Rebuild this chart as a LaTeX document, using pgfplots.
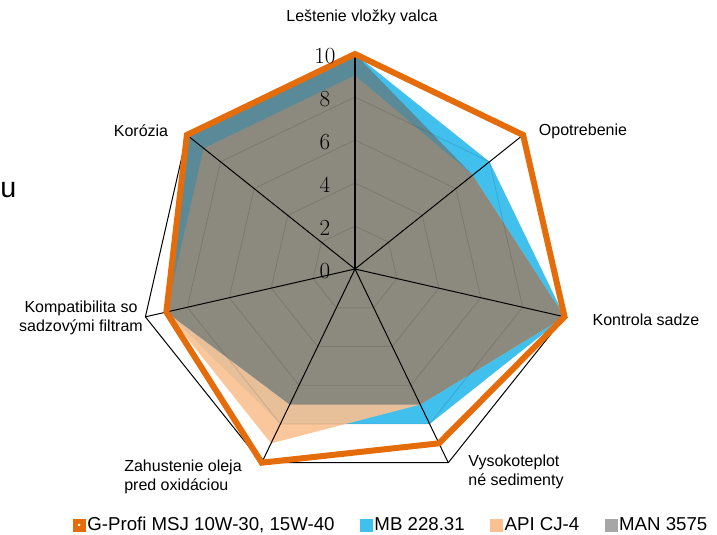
\documentclass[border=0pt]{standalone}
\usepackage[no-math]{fontspec}
\setmainfont{Liberation Sans}
\usepackage{pgfplots}
\pgfplotsset{compat=1.18}
\usepgfplotslibrary{polar}
\definecolor{orangeC}{RGB}{228,108,10}
\definecolor{blueC}{RGB}{65,192,238}
\definecolor{peachC}{RGB}{250,192,144}
\definecolor{grayC}{RGB}{102,116,116}
\definecolor{grayL}{RGB}{166,166,166}
\begin{document}
\begin{tikzpicture}
\useasboundingbox (-266.25pt,-199.5pt) rectangle (271.5pt,201.75pt);
\begin{polaraxis}[
  at={(0,0)}, anchor=center,
  scale only axis, width=322.5pt, height=322.5pt,
  xmin=0, xmax=360, ymin=0, ymax=10,
  hide axis, clip=false,
  legend style={at={(0.584,-0.095)}, anchor=center, draw=none, fill=none,
    legend columns=4, font=\fontsize{14}{16}\selectfont,
    /tikz/every even column/.append style={column sep=17.5pt},
    nodes={inner sep=1.5pt}},
  legend cell align=left,
]
\addlegendimage{legend image code/.code={\fill[orangeC] (0pt,-4.5pt) rectangle (9pt,4.5pt); \fill[white] (4.5pt,0pt) circle (0.8pt);}}
\addlegendentry{G-Profi MSJ 10W-30, 15W-40}
\addlegendimage{legend image code/.code={\fill[blueC] (0pt,-4.5pt) rectangle (9pt,4.5pt);}}
\addlegendentry{MB 228.31}
\addlegendimage{legend image code/.code={\fill[peachC] (0pt,-4.5pt) rectangle (9pt,4.5pt);}}
\addlegendentry{API CJ-4}
\addlegendimage{legend image code/.code={\fill[grayL] (0pt,-4.5pt) rectangle (9pt,4.5pt);}}
\addlegendentry{MAN 3575}
% MB 228.31
\addplot[forget plot, draw=none, fill=blueC] coordinates {(90,10) (38.5714,8) (347.1429,10) (295.7143,8) (244.2857,8) (192.8571,9) (141.4286,10)} -- cycle;
% API CJ-4
\addplot[forget plot, draw=none, fill=peachC, fill opacity=0.9] coordinates {(90,9) (38.5714,7) (347.1429,10) (295.7143,7) (244.2857,9) (192.8571,9) (141.4286,9)} -- cycle;
% MAN 3575
\addplot[forget plot, draw=none, fill=grayC, fill opacity=0.7] coordinates {(90,10) (38.5714,7) (347.1429,10) (295.7143,7) (244.2857,7) (192.8571,9) (141.4286,10)} -- cycle;
% grid
\addplot[forget plot, black, opacity=0.12, line width=0.6pt] coordinates {(90,2) (38.5714,2) (347.1429,2) (295.7143,2) (244.2857,2) (192.8571,2) (141.4286,2)} -- cycle;
\addplot[forget plot, black, opacity=0.12, line width=0.6pt] coordinates {(90,4) (38.5714,4) (347.1429,4) (295.7143,4) (244.2857,4) (192.8571,4) (141.4286,4)} -- cycle;
\addplot[forget plot, black, opacity=0.12, line width=0.6pt] coordinates {(90,6) (38.5714,6) (347.1429,6) (295.7143,6) (244.2857,6) (192.8571,6) (141.4286,6)} -- cycle;
\addplot[forget plot, black, opacity=0.12, line width=0.6pt] coordinates {(90,8) (38.5714,8) (347.1429,8) (295.7143,8) (244.2857,8) (192.8571,8) (141.4286,8)} -- cycle;
\addplot[forget plot, black, line width=0.75pt] coordinates {(90,10) (38.5714,10) (347.1429,10) (295.7143,10) (244.2857,10) (192.8571,10) (141.4286,10)} -- cycle;
% spokes
\addplot[forget plot, black, line width=1.5pt] coordinates {(90,0) (90,10)};
\addplot[forget plot, black, line width=0.75pt] coordinates {(38.5714,0) (38.5714,10)};
\addplot[forget plot, black, line width=0.75pt] coordinates {(347.1429,0) (347.1429,10)};
\addplot[forget plot, black, line width=0.75pt] coordinates {(295.7143,0) (295.7143,10)};
\addplot[forget plot, black, line width=0.75pt] coordinates {(244.2857,0) (244.2857,10)};
\addplot[forget plot, black, line width=0.75pt] coordinates {(192.8571,0) (192.8571,10)};
\addplot[forget plot, black, line width=0.75pt] coordinates {(141.4286,0) (141.4286,10)};
% G-Profi
\addplot[forget plot, draw=orangeC, line width=4.5pt, line join=miter] coordinates {(90,10) (38.5714,10) (347.1429,10) (295.7143,9) (244.2857,10) (192.8571,9) (141.4286,10)} -- cycle;
\end{polaraxis}
% radial tick labels
\foreach \v in {0,2,4,6,8,10}{
  \node[font=\fontsize{16}{16}\selectfont, inner sep=0pt] at (-22.5pt,{\v*16.125pt-1.5pt}) {$\v$};
}
% category labels
\begin{scope}[every node/.style={font=\fontsize{12}{14.25}\selectfont, inner sep=0pt}]
\node at (5.25pt,189pt) {Leštenie vložky valca};
\node at (171pt,103.5pt) {Opotrebenie};
\node at (218.25pt,-38.25pt) {Kontrola sadze};
\node[align=left] at (120.75pt,-152.25pt) {Vysokoteplot\\né sedimenty};
\node[align=left] at (-129pt,-156pt) {Zahustenie oleja\\pred oxidáciou};
\node[align=center] at (-205.5pt,-36.75pt) {Kompatibilita so\\sadzovými filtram};
\node at (-160.5pt,103.5pt) {Korózia};
\end{scope}
\node[font=\fontsize{21.5}{22}\selectfont, inner sep=0pt] at (-260pt,59pt) {u};
\end{tikzpicture}
\end{document}
